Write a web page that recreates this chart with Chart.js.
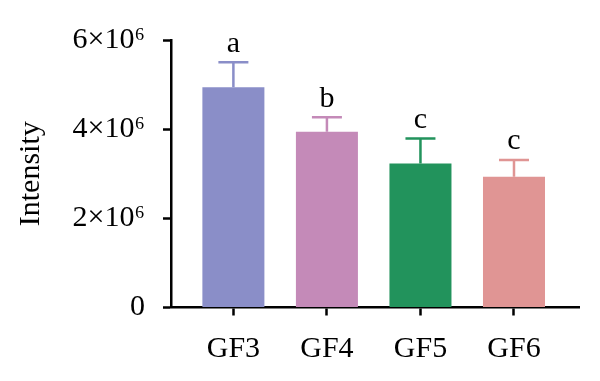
<!DOCTYPE html>
<html><head><meta charset="utf-8">
<script src="https://cdn.jsdelivr.net/npm/chart.js@4/dist/chart.umd.min.js"></script>
<style>html,body{margin:0;padding:0;background:#fff}#wrap{width:600px;height:381px;position:relative}</style>
</head><body><div id="wrap"><canvas id="c"></canvas></div>
<script>
const categories = ['GF3', 'GF4', 'GF5', 'GF6'];
const means = [4.94e6, 3.94e6, 3.23e6, 2.93e6];
const errorTops = [5.50e6, 4.27e6, 3.79e6, 3.31e6];
const letters = ['a', 'b', 'c', 'c'];
const yTickValues = [0, 2e6, 4e6, 6e6];
const yTickLabels = ['0', '2×10⁶', '4×10⁶', '6×10⁶'];
const barColors = ['#8A8EC8', '#C48AB8', '#22935C', '#E09594'];
const yTitle = 'Intensity';

const FONT = "'Liberation Serif', 'Times New Roman', Times, serif";

const errorPlugin = {
  id: 'errorBars',
  afterDatasetsDraw(chart) {
    const ctx = chart.ctx;
    const x = chart.scales.x, y = chart.scales.y;
    ctx.save();
    categories.forEach((c, i) => {
      const px = x.getPixelForValue(i);
      const yTop = y.getPixelForValue(means[i]);
      const yErr = y.getPixelForValue(errorTops[i]);
      ctx.strokeStyle = barColors[i];
      ctx.lineWidth = 2.5;
      ctx.beginPath();
      ctx.moveTo(px, yTop);
      ctx.lineTo(px, yErr);
      ctx.moveTo(px - 15, yErr);
      ctx.lineTo(px + 15, yErr);
      ctx.stroke();
      ctx.fillStyle = '#000';
      ctx.font = '30px ' + FONT;
      ctx.textAlign = 'center';
      ctx.textBaseline = 'alphabetic';
      ctx.fillText(letters[i], px, yErr - 10.5);
    });
    ctx.restore();
  }
};

function draw() {
  new Chart(document.getElementById('c'), {
    type: 'bar',
    data: {
      datasets: [{
        data: categories.map((c, i) => ({ x: i, y: means[i] })),
        backgroundColor: barColors,
        borderWidth: 0,
        barPercentage: 0.663,
        categoryPercentage: 1
      }]
    },
    options: {
      responsive: true,
      maintainAspectRatio: false,
      animation: false,
      layout: { padding: { top: 40, right: 21, left: 0, bottom: 0 } },
      plugins: { legend: { display: false }, tooltip: { enabled: false } },
      scales: {
        x: {
          type: 'linear',
          offset: false,
          min: -0.667,
          max: 3.695,
          afterBuildTicks: (s) => { s.ticks = categories.map((c, i) => ({ value: i })); },
          afterFit: (s) => { s.height = 73.5; },
          ticks: {
            callback: (v) => categories[v],
            color: '#000',
            font: { family: FONT, size: 30 },
            padding: 16,
            maxRotation: 0,
            autoSkip: false
          },
          grid: { display: true, offset: false, drawOnChartArea: false, drawTicks: true, tickLength: 8, tickWidth: 2.5, tickColor: '#000' },
          border: { display: true, color: '#000', width: 2.5 }
        },
        y: {
          min: 0,
          max: 6e6,
          afterBuildTicks: (s) => { s.ticks = yTickValues.map(v => ({ value: v })); },
          afterFit: (s) => { s.width = 171; },
          ticks: {
            callback: (v) => yTickLabels[yTickValues.indexOf(v)],
            color: '#000',
            font: { family: FONT, size: 30 },
            padding: 18
          },
          grid: { display: true, drawOnChartArea: false, drawTicks: true, tickLength: 8, tickWidth: 2.5, tickColor: '#000' },
          border: { display: true, color: '#000', width: 2.5 },
          title: {
            display: true,
            text: yTitle,
            color: '#000',
            font: { family: FONT, size: 30 },
            padding: { top: 13, bottom: 0 }
          }
        }
      }
    },
    plugins: [errorPlugin]
  });
}
if (document.fonts && document.fonts.load) {
  document.fonts.load("30px 'Liberation Serif'").then(draw, draw);
} else { draw(); }
</script>
</body></html>
